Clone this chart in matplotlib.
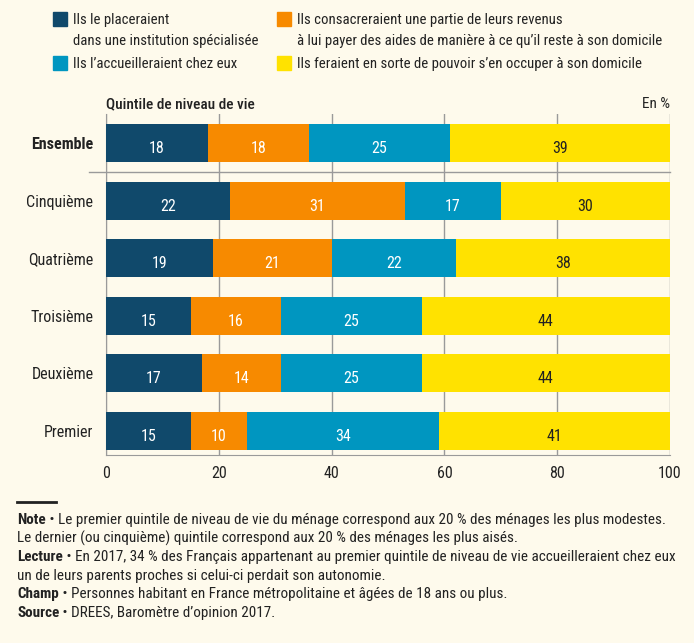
import matplotlib
matplotlib.use('Agg')
import matplotlib.pyplot as plt
from matplotlib.patches import Rectangle
import numpy as np

plt.rcParams['font.family'] = ['Roboto Condensed', 'Liberation Sans', 'DejaVu Sans']

categories = ['Ensemble', 'Cinquième', 'Quatrième', 'Troisième', 'Deuxième', 'Premier']
series_names = ['Ils le placeraient\ndans une institution spécialisée',
                'Ils consacreraient une partie de leurs revenus\nà lui payer des aides de manière à ce qu\u2019il reste à son domicile',
                'Ils l\u2019accueilleraient chez eux',
                'Ils feraient en sorte de pouvoir s\u2019en occuper à son domicile']
institution = [18, 22, 19, 15, 17, 15]
revenus = [18, 31, 21, 16, 14, 10]
accueil = [25, 17, 22, 25, 25, 34]
domicile = [39, 30, 38, 44, 44, 41]
xticks = [0, 20, 40, 60, 80, 100]

colors = ['#10496b', '#f78a00', '#0096c0', '#ffe200']
text_colors = ['white', 'white', 'white', '#222222']
bg = '#fefaec'
ink = '#222222'
grey = '#9a9a9a'

fig = plt.figure(figsize=(6.94, 6.43), dpi=100, facecolor=bg)
ax = fig.add_axes([106/694, 1 - 455/643, 564/694, 341/643], facecolor=bg)

y = np.arange(len(categories))
left = np.zeros(len(categories))
for vals, col, tcol in zip([institution, revenus, accueil, domicile], colors, text_colors):
    bars = ax.barh(y, vals, left=left, height=0.66, color=col, zorder=3)
    for b, v in zip(bars, vals):
        ax.text(b.get_x() + b.get_width() / 2, b.get_y() + b.get_height() / 2 + 0.09, str(v),
                ha='center', va='center', color=tcol, fontsize=11.5, zorder=4)
    left += np.array(vals)

ax.set_xlim(0, 100)
ax.set_ylim(5.42, -0.51)
ax.set_xticks(xticks)
ax.set_yticks(y)
ax.set_yticklabels(categories)
ax.get_yticklabels()[0].set_fontweight('bold')
ax.tick_params(axis='both', length=0, labelsize=11.5, colors=ink)
ax.tick_params(axis='y', pad=9)
ax.tick_params(axis='x', pad=8)
ax.xaxis.grid(True, color=grey, linewidth=1, zorder=1)
for s in ['top', 'right']:
    ax.spines[s].set_visible(False)
ax.spines['left'].set_color(grey)
ax.spines['bottom'].set_color(grey)
ax.axhline(0.5, xmin=-0.03, xmax=1, color=grey, linewidth=1, clip_on=False, zorder=2)

ax.text(0, 1.008, 'Quintile de niveau de vie', transform=ax.transAxes, ha='left', va='bottom',
        fontsize=11, color=ink, fontweight='medium')
ax.text(1, 1.008, 'En %', transform=ax.transAxes, ha='right', va='bottom',
        fontsize=11, color=ink)

# legend drawn by hand to keep the two-line labels
leg_pos = [(53, 12), (277, 12), (53, 56), (277, 56)]
for (px, py), name, col in zip(leg_pos, series_names, colors):
    fig.patches.append(Rectangle((px / 694, 1 - (py + 14) / 643), 14 / 694, 14 / 643,
                                 transform=fig.transFigure, color=col))
    fig.text((px + 20) / 694, 1 - (py + 1) / 643, name, ha='left', va='top', fontsize=10.6,
             color=ink, linespacing=1.6)

# notes
fig.add_artist(plt.Line2D([17 / 694, 56 / 694], [1 - 502 / 643] * 2, color=ink, linewidth=2))
notes = [('Note', ' \u2022 Le premier quintile de niveau de vie du ménage correspond aux 20 % des ménages les plus modestes.'),
         ('', 'Le dernier (ou cinquième) quintile correspond aux 20 % des ménages les plus aisés.'),
         ('Lecture', ' \u2022 En 2017, 34 % des Français appartenant au premier quintile de niveau de vie accueilleraient chez eux'),
         ('', 'un de leurs parents proches si celui-ci perdait son autonomie.'),
         ('Champ', ' \u2022 Personnes habitant en France métropolitaine et âgées de 18 ans ou plus.'),
         ('Source', ' \u2022 DREES, Baromètre d\u2019opinion 2017.')]
for i, (head, body) in enumerate(notes):
    yy = 1 - (520 + i * 18.6) / 643
    if head:
        t = fig.text(17 / 694, yy, head, ha='left', va='center', fontsize=10.9,
                     fontweight='bold', color=ink)
        ax.annotate(body, xy=(1, 0), xycoords=t, ha='left', va='bottom', fontsize=10.9,
                    color=ink, annotation_clip=False)
    else:
        fig.text(17 / 694, yy, body, ha='left', va='center', fontsize=10.9, color=ink)

fig.savefig('out.png', dpi=100, facecolor=bg)
